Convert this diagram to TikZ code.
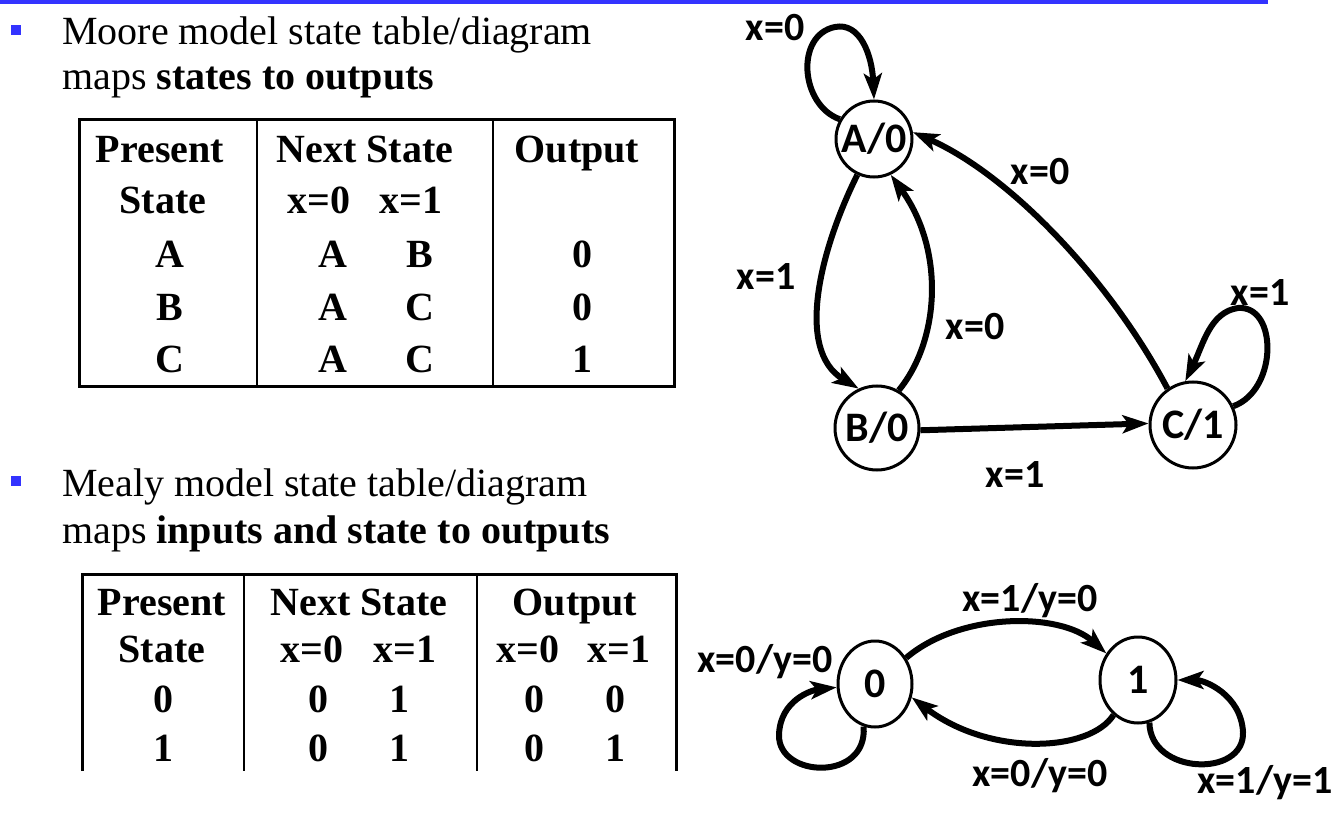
\documentclass[tikz,border=0pt]{standalone}
\usepackage{fontspec}
\setmainfont{Liberation Serif}
\newfontfamily\lblfont{Carlito}
\usetikzlibrary{arrows.meta,shapes.geometric}
\definecolor{bblue}{RGB}{51,51,255}
\begin{document}
\begin{tikzpicture}[x=1pt,y=-1pt,
  body/.style={anchor=base west,inner sep=0pt,font=\fontsize{40}{48}\selectfont},
  tb/.style={anchor=base,inner sep=0pt,font=\fontsize{40}{48}\selectfont\bfseries},
  st/.style={draw,circle,line width=3pt,inner sep=0pt,font=\lblfont\bfseries\fontsize{42}{48}\selectfont},
  mst/.style={draw,ellipse,line width=3pt,inner sep=0pt,font=\lblfont\bfseries\fontsize{42}{48}\selectfont},
  lbl/.style={inner sep=0pt,font=\lblfont\bfseries\fontsize{40}{46}\selectfont},
  edge/.style={line width=6pt,-{Stealth[length=26pt,width=18pt,inset=6pt]}},
  tline/.style={line width=3pt},
  tdiv/.style={line width=2pt},
]
\useasboundingbox (0,0) rectangle (1342,821);
\fill[white] (0,0) rectangle (1342,821);
% top rule
\fill[bblue] (0,0) rectangle (1268,4);
% bullets
\fill[bblue] (11,25) rectangle (21,35);
\fill[bblue] (11,476) rectangle (21,486);
% body text
\node[body] (m1) at (62,45) {Moore model state table/diagram};
\node[body] (m2) at (62,90) {maps \textbf{states to outputs}};
\node[body] (y1) at (62,496) {Mealy model state table/diagram};
\node[body] (y2) at (62,543) {maps \textbf{inputs and state to outputs}};
% Moore table
\draw[tline] (79,120) rectangle (674,386);
\draw[tdiv] (257,120) -- (257,386);
\draw[tdiv] (493,120) -- (493,386);
\node[tb] (a1) at (160,163) {Present};
\node[tb] (a2) at (163,214) {State};
\node[tb] (a3) at (365,163) {Next State};
\node[tb] (a4) at (319,214) {x=0};
\node[tb] (a5) at (411,214) {x=1};
\node[tb] (a6) at (577,163) {Output};
\node[tb] (r1) at (170,268) {A};
\node[tb] (r2) at (170,320) {B};
\node[tb] (r3) at (170,372) {C};
\node[tb] (r4) at (333,268) {A};
\node[tb] (r5) at (333,320) {A};
\node[tb] (r6) at (333,372) {A};
\node[tb] (r7) at (420,268) {B};
\node[tb] (r8) at (420,320) {C};
\node[tb] (r9) at (420,372) {C};
\node[tb] (r10) at (582,268) {0};
\node[tb] (r11) at (582,320) {0};
\node[tb] (r12) at (582,372) {1};
% Mealy table
\draw[tline] (82,771) -- (82,574) -- (676,574) -- (676,771);
\draw[tdiv] (244,574) -- (244,771);
\draw[tdiv] (477,574) -- (477,771);
\node[tb] (b1) at (162,615) {Present};
\node[tb] (b2) at (162,662) {State};
\node[tb] (b3) at (359,615) {Next State};
\node[tb] (b4) at (312,662) {x=0};
\node[tb] (b5) at (405,662) {x=1};
\node[tb] (b6) at (575,615) {Output};
\node[tb] (b7) at (528,662) {x=0};
\node[tb] (b8) at (619,662) {x=1};
\node[tb] (s1) at (163,712) {0};
\node[tb] (s2) at (163,761) {1};
\node[tb] (s3) at (318,712) {0};
\node[tb] (s4) at (318,761) {0};
\node[tb] (s5) at (399,712) {1};
\node[tb] (s6) at (399,761) {1};
\node[tb] (s7) at (534,712) {0};
\node[tb] (s8) at (534,761) {0};
\node[tb] (s9) at (615,712) {0};
\node[tb] (s10) at (615,761) {1};
% Moore diagram
\node[st,minimum size=76pt] (A) at (874,139) {A/0};
\node[st,minimum size=84pt] (B) at (877,428) {B/0};
\node[st,minimum size=86pt] (C) at (1193,425) {C/1};
\draw[edge] (A.150) .. controls (800,105) and (795,35) .. (835,27) .. controls (860,22) and (872,55) .. (A.north);
\draw[edge] (A.245) .. controls (820,250) and (795,350) .. (B.115);
\draw[edge] (B.60) .. controls (940,340) and (945,250) .. (A.295);
\draw[edge] (C.125) .. controls (1110,280) and (1010,175) .. (A.10);
\draw[edge] (C.25) .. controls (1278,390) and (1278,305) .. (1238,308) .. controls (1210,312) and (1203,345) .. (C.100);
\draw[edge] (B.-3) -- (C.178);
\node[lbl] (l1) at (775,28) {x=0};
\node[lbl] (l2) at (766,277) {x=1};
\node[lbl] (l3) at (975,327) {x=0};
\node[lbl] (l4) at (1040,172) {x=0};
\node[lbl] (l5) at (1260,293) {x=1};
\node[lbl] (l6) at (1015,475) {x=1};
% Mealy diagram
\node[mst,minimum width=74pt,minimum height=86pt] (M0) at (875,684) {0};
\node[mst,minimum width=76pt,minimum height=86pt] (M1) at (1138,680) {1};
\draw[edge] (M0.40) .. controls (960,612) and (1060,612) .. (M1.140);
\draw[edge] (M1.235) .. controls (1090,752) and (990,757) .. (M0.340);
\draw[edge] (M0.255) .. controls (868,782) and (778,778) .. (779,735) .. controls (780,700) and (812,690) .. (M0.185);
\draw[edge] (M1.285) .. controls (1150,775) and (1245,778) .. (1243,732) .. controls (1241,695) and (1205,680) .. (M1.0);
\node[lbl] (k1) at (1030,601) {x=1/y=0};
\node[lbl] (k2) at (765,662) {x=0/y=0};
\node[lbl] (k3) at (1040,776) {x=0/y=0};
\node[lbl] (k4) at (1265,783) {x=1/y=1};
\end{tikzpicture}
\end{document}
